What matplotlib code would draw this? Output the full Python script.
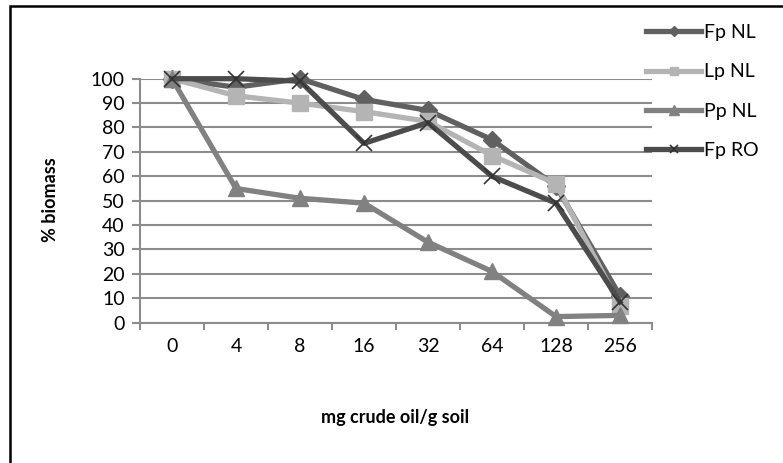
import matplotlib
matplotlib.use("Agg")
import matplotlib.pyplot as plt
from matplotlib.patches import Rectangle

categories = ["0", "4", "8", "16", "32", "64", "128", "256"]
fp_nl = [100, 96.5, 100, 91.5, 87, 75, 56, 11]
lp_nl = [100, 93, 90, 86.5, 82.5, 68.5, 57, 7]
pp_nl = [100, 55, 51, 49, 33, 21, 2.5, 3]
fp_ro = [100, 100, 99, 73.5, 82, 60, 49, 8.5]
y_ticks = [0, 10, 20, 30, 40, 50, 60, 70, 80, 90, 100]

plt.rcParams['font.family'] = ['Lato', 'DejaVu Sans']
W, H = 783, 463
fig = plt.figure(figsize=(W / 100, H / 100), dpi=100)
ax = fig.add_axes([140 / W, 1 - 322.7 / H, (652 - 140) / W, (322.7 - 78.7) / H])

x = list(range(len(categories)))
grid_c = "#8c8c8c"
series = [
    ("Fp NL", fp_nl, "#606060", "D", 9, "#606060", 1),
    ("Lp NL", lp_nl, "#b4b4b4", "s", 11, "#b4b4b4", 1),
    ("Pp NL", pp_nl, "#818181", "^", 12, "#818181", 1),
    ("Fp RO", fp_ro, "#4c4c4c", "x", 11, "#333333", 1.2),
]
for name, vals, col, mk, ms, mec, mew in series:
    ax.plot(x, vals, color=col, lw=3.8, marker=mk, ms=ms, mfc=col, mec=mec,
            mew=mew, label=name, clip_on=False, zorder=3, solid_joinstyle="round")

ax.set_xlim(-0.5, len(categories) - 0.5)
ax.set_ylim(0, 100)
ax.set_yticks(y_ticks)
ax.set_yticklabels([str(v) for v in y_ticks])
ax.set_xticks(x)
ax.set_xticklabels(categories)
ax.set_xticks([i - 0.5 for i in range(len(categories) + 1)], minor=True)
ax.tick_params(axis="x", which="major", length=0, pad=11, labelsize=14)
ax.tick_params(axis="x", which="minor", length=5, width=1.5, color=grid_c)
ax.tick_params(axis="y", length=6, width=1.5, color=grid_c, pad=5, labelsize=14)
ax.grid(axis="y", color=grid_c, lw=1.5, zorder=0)
ax.set_axisbelow(True)
for s in ["top", "right"]:
    ax.spines[s].set_visible(False)
for s in ["left", "bottom"]:
    ax.spines[s].set_color(grid_c)
    ax.spines[s].set_linewidth(1.5)

fig.text(50 / W, 1 - 200 / H, "% biomass", rotation=90, ha="center", va="center",
         fontsize=13, fontweight="bold")
fig.text(395 / W, 1 - 418 / H, "mg crude oil/g soil", ha="center", va="center",
         fontsize=13, fontweight="bold")

leg = ax.legend(loc="upper left", bbox_to_anchor=(646 / W, 1 - 24 / H),
                bbox_transform=fig.transFigure, frameon=False, fontsize=14,
                handlelength=2.85, handletextpad=0.15, labelspacing=1.15,
                borderaxespad=0, borderpad=0, markerscale=0.55)

fig.patches.append(Rectangle((10 / W, -0.1), 1.2, 1 - 6 / H + 0.1, fill=False,
                             ec="black", lw=1.8, transform=fig.transFigure))

fig.savefig("out.png", dpi=100)
